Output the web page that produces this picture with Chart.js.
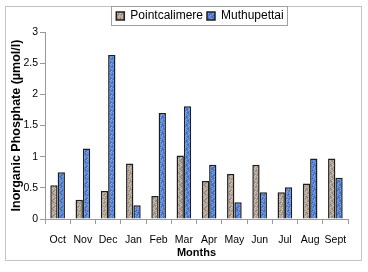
<!DOCTYPE html>
<html>
<head>
<meta charset="utf-8">
<script src="https://cdn.jsdelivr.net/npm/chart.js@4/dist/chart.umd.min.js"></script>
<style>
	html, body	{ margin: 0; padding: 0; background: #fff; }
	#myBarChart	{ display: block; }
</style>
</head>
<body>
<canvas id="myBarChart" width="368" height="272"></canvas>
<script>
const	months		= [ 'Oct', 'Nov', 'Dec', 'Jan', 'Feb', 'Mar', 'Apr', 'May', 'Jun', 'Jul', 'Aug', 'Sept' ];
const	pointcalimere	= [ 0.54, 0.31, 0.45, 0.89, 0.37, 1.02, 0.61, 0.72, 0.87, 0.43, 0.57, 0.97 ];
const	muthupettai	= [ 0.75, 1.13, 2.63, 0.22, 1.70, 1.81, 0.87, 0.27, 0.43, 0.51, 0.97, 0.66 ];
const	yTicks		= [ 0, 0.5, 1, 1.5, 2, 2.5, 3 ];

const	FONT	= "'Liberation Sans', Arial, sans-serif";
const	LEGEND_SHIFT	= 23;	//	legend sits right of centre in the original

/******** texture fill (fixed speckle, like the old Excel "granite") ********/

function makeTexture( base, light, dark ) {
	const	map	= [
		"01002010",
		"00120001",
		"20010200",
		"01000012",
		"00201001",
		"10020100",
		"02001020",
		"00100201",
	];
	const	cv	= document.createElement( 'canvas' );
	cv.width	= 8;
	cv.height	= 8;
	const	c	= cv.getContext( '2d' );
	const	col	= [ base, light, dark ];

	for ( let y = 0; y < 8; y++ )
		for ( let x = 0; x < 8; x++ ) {
			c.fillStyle	= col[ +map[ y ][ x ] ];
			c.fillRect( x, y, 1, 1 );
		}
	return document.getElementById( 'myBarChart' ).getContext( '2d' ).createPattern( cv, 'repeat' );
}

const	brownFill	= makeTexture( '#ae9f90', '#cfc5ba', '#8f8072' );
const	blueFill	= makeTexture( '#4f80d8', '#86a8e8', '#3a66b6' );

/******** frame around the whole chart and around the legend ********/

const	framePlugin	= {
	id: 'frame',
	beforeDraw: function ( chart ) {
		const	ctx	= chart.ctx;
		const	lg	= chart.legend;

		//	move the legend row to where it is in the picture
		if ( !lg._shifted ) {
			lg.left		+= LEGEND_SHIFT;
			lg.right	+= LEGEND_SHIFT;
			lg._shifted	= true;
		}

		ctx.save();
		ctx.fillStyle	= '#fff';
		ctx.fillRect( 0, 0, chart.width, chart.height );
		ctx.restore();
	},
	afterDraw: function ( chart ) {
		const	ctx	= chart.ctx;
		const	lg	= chart.legend;
		const	pad	= lg.options.labels.padding;
		const	total	= lg.lineWidths[ 0 ];
		const	start	= ( lg.left + pad + lg.right - total ) / 2;
		const	end	= start + total - pad;

		ctx.save();
		ctx.strokeStyle	= '#c4c4c4';
		ctx.lineWidth	= 1;
		ctx.strokeRect( 5.5, 6.5, 356, 254 );

		ctx.strokeStyle	= '#a0a0a0';
		ctx.strokeRect( Math.round( start ) - 4.5, 6.5, Math.round( end - start ) + 9, 19 );
		ctx.restore();
	}
};

let	chart	= new Chart( document.getElementById( 'myBarChart' ), {
	type: 'bar',
	data: {
		labels: months,
		datasets: [
			{
				label: 'Pointcalimere',
				data: pointcalimere,
				backgroundColor: brownFill,
				borderColor: '#1e1e1e',
				borderWidth: 1.5,
				categoryPercentage: 0.58,
				barPercentage: 1.0,
			},
			{
				label: 'Muthupettai',
				data: muthupettai,
				backgroundColor: blueFill,
				borderColor: '#1e1e1e',
				borderWidth: 1.5,
				categoryPercentage: 0.58,
				barPercentage: 1.0,
			},
		],
	},
	options: {
		responsive: false,
		animation: false,
		layout: {
			padding: { left: 6, right: 20, top: 6, bottom: 11 },
		},
		plugins: {
			legend: {
				position: 'top',
				labels: {
					color: '#000',
					boxWidth: 8,
					boxHeight: 8,
					padding: 4,
					font: { family: FONT, size: 12 },
				},
			},
			tooltip: { enabled: false },
		},
		scales: {
			x: {
				grid: {
					drawOnChartArea: false,
					tickLength: 5,
					color: '#9a9a9a',
				},
				border: { color: '#9a9a9a' },
				ticks: {
					color: '#000',
					padding: 10,
					maxRotation: 0,
					autoSkip: false,
					font: { family: FONT, size: 10.5 },
				},
				title: {
					display: true,
					text: 'Months',
					color: '#000',
					padding: { top: 0, bottom: 1 },
					font: { family: FONT, size: 11, weight: 'bold' },
				},
				afterFit: function ( scale ) {
					scale.height	= 42;
				},
			},
			y: {
				min: 0,
				max: 3,
				afterBuildTicks: function ( scale ) {
					scale.ticks	= yTicks.map( v => ( { value: v } ) );
				},
				grid: {
					drawOnChartArea: false,
					tickLength: 5,
					color: '#9a9a9a',
				},
				border: { color: '#9a9a9a' },
				ticks: {
					color: '#000',
					padding: 2,
					font: { family: FONT, size: 10.5 },
					callback: v => String( v ),
				},
				title: {
					display: true,
					text: 'Inorganic Phosphate (µmol/l)',
					color: '#000',
					padding: { top: 3, bottom: 0 },
					font: { family: FONT, size: 12.5, weight: 'bold' },
				},
				afterFit: function ( scale ) {
					scale.width	= 39;
				},
			},
		},
	},
	plugins: [ framePlugin ],
});
</script>
</body>
</html>
